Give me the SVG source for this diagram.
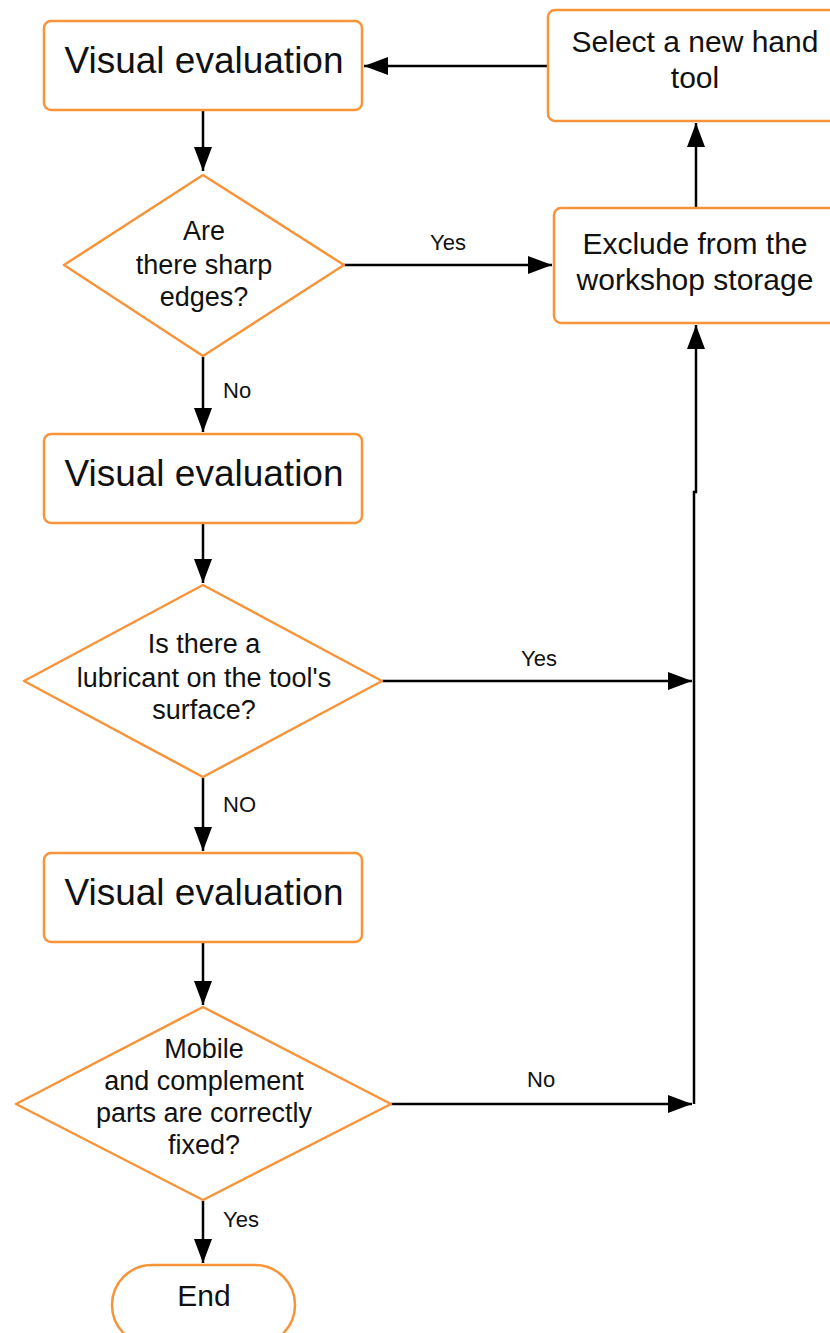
<svg xmlns="http://www.w3.org/2000/svg" width="830" height="1333" viewBox="0 0 830 1333">
<defs>
<style>
.n{fill:#fff;stroke:#F7943A;stroke-width:2.5;stroke-linejoin:round}
.t{font-family:"Liberation Sans",Arial,sans-serif;fill:#111;text-anchor:middle}
.big{font-size:37px}
.mid{font-size:30px}
.sm{font-size:27px}
.lb{font-family:"Liberation Sans",Arial,sans-serif;font-size:22px;fill:#111}
.c{fill:none;stroke:#000;stroke-width:2.5}
</style>
<marker id="ab" viewBox="0 0 24 18" refX="24" refY="9" markerWidth="24" markerHeight="18" markerUnits="userSpaceOnUse" orient="auto"><path d="M0,0L24,9L0,18z" fill="#000"/></marker>
</defs>
<g id="connectors">
<path class="c" d="M203,111V171" marker-end="url(#ab)"/>
<path class="c" d="M344,265H552" marker-end="url(#ab)"/>
<path class="c" d="M203,357V432" marker-end="url(#ab)"/>
<path class="c" d="M203,524V583" marker-end="url(#ab)"/>
<path class="c" d="M382,681H692" marker-end="url(#ab)"/>
<path class="c" d="M203,778V851" marker-end="url(#ab)"/>
<path class="c" d="M203,943V1005" marker-end="url(#ab)"/>
<path class="c" d="M391,1104H692" marker-end="url(#ab)"/>
<path class="c" d="M203,1201V1263" marker-end="url(#ab)"/>
<path class="c" d="M694,1104V492H696V325" marker-end="url(#ab)"/>
<path class="c" d="M696,208V123" marker-end="url(#ab)"/>
<path class="c" d="M548,66H364" marker-end="url(#ab)"/>
<text class="lb" x="430" y="250">Yes</text>
<text class="lb" x="223" y="398">No</text>
<text class="lb" x="521" y="666">Yes</text>
<text class="lb" x="223" y="812">NO</text>
<text class="lb" x="527" y="1087">No</text>
<text class="lb" x="223" y="1227">Yes</text>
</g>
<g id="box1"><rect class="n" x="44" y="21" width="318" height="89" rx="7"/><text class="t big" x="204" y="73">Visual evaluation</text></g>
<g id="select"><rect class="n" x="548" y="10" width="290" height="111" rx="7"/><text class="t mid" x="695" y="52">Select a new hand</text><text class="t mid" x="695" y="88">tool</text></g>
<g id="exclude"><rect class="n" x="554" y="208" width="290" height="115" rx="7"/><text class="t mid" x="695" y="254">Exclude from the</text><text class="t mid" x="695" y="290">workshop storage</text></g>
<g id="d1"><path class="n" d="M203,175L344,265L203,356L64,265Z"/><text class="t sm" x="204" y="240">Are</text><text class="t sm" x="204" y="274">there sharp</text><text class="t sm" x="204" y="306">edges?</text></g>
<g id="box2"><rect class="n" x="44" y="434" width="318" height="89" rx="7"/><text class="t big" x="204" y="486">Visual evaluation</text></g>
<g id="d2"><path class="n" d="M203,585L382,681L203,777L24,681Z"/><text class="t sm" x="204" y="653">Is there a</text><text class="t sm" x="204" y="687">lubricant on the tool's</text><text class="t sm" x="204" y="719">surface?</text></g>
<g id="box3"><rect class="n" x="44" y="853" width="318" height="89" rx="7"/><text class="t big" x="204" y="905">Visual evaluation</text></g>
<g id="d3"><path class="n" d="M203,1007L391,1104L203,1200L16,1104Z"/><text class="t sm" x="204" y="1058">Mobile</text><text class="t sm" x="204" y="1090">and complement</text><text class="t sm" x="204" y="1122">parts are correctly</text><text class="t sm" x="204" y="1154">fixed?</text></g>
<g id="end"><rect class="n" x="112" y="1265" width="183" height="80" rx="40"/><text class="t mid" x="204" y="1306">End</text></g>
</svg>
